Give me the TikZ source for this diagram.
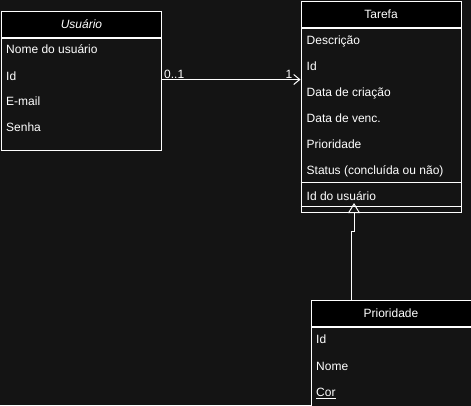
\documentclass[tikz,border=0pt]{standalone}
\usepackage{fontspec}
\setmainfont{Liberation Sans}
\usepackage{xcolor}
\usetikzlibrary{arrows.meta}
\definecolor{canvas}{RGB}{20,20,20}
\colorlet{ink}{white}
\tikzset{
  % node options
  classbox/.style={rectangle,draw=ink,line width=1pt,minimum width=160pt,inner sep=0pt,anchor=north west},
  classhead/.style={classbox,fill=black,minimum height=26pt,text=ink,font=\fontsize{12}{14}\selectfont},
  classbody/.style={classbox,fill=canvas,anchor=north},
  attr/.style={anchor=base west,inner sep=0pt,text=ink,font=\fontsize{12}{14}\selectfont},
  mult/.style={inner sep=0pt,text=ink,font=\fontsize{12}{14}\selectfont},
  % path options
  assoc/.style={draw=ink,line width=1pt,-{Straight Barb[length=6pt,width=10pt,line width=1pt]}},
  inherit/.style={draw=ink,line width=1pt,-{Triangle[open,length=10pt,width=12pt,line width=1pt]}},
  divider/.style={draw=ink,line width=1pt},
}

\begin{document}
\begin{tikzpicture}[x=1pt,y=-1pt]
  \fill[canvas] (0,0) rectangle (471,405);
  \useasboundingbox (0,0) rectangle (471,405);
  % Usuario
  \node[classhead] (usuarioHead) at (1,10.5) {\itshape Usuário};
  \node[classbody,minimum height=112pt] (usuarioBody) at (usuarioHead.south) {};
  \node[attr] (usuarioNome) at (6,53.3) {Nome do usuário};
  \node[attr] (usuarioId) at (6,80.3) {Id};
  \node[attr] (usuarioEmail) at (6,105.3) {E-mail};
  \node[attr] (usuarioSenha) at (6,131.3) {Senha};
  % Tarefa
  \node[classhead] (tarefaHead) at (300.5,1) {Tarefa};
  \node[classbody,minimum height=183.5pt] (tarefaBody) at (tarefaHead.south) {};
  \node[attr] (tarefaDescricao) at (306.5,44.3) {Descrição};
  \node[attr] (tarefaId) at (306.5,70.3) {Id};
  \node[attr] (tarefaCriacao) at (306.5,96.3) {Data de criação};
  \node[attr] (tarefaVenc) at (306.5,122.3) {Data de venc.};
  \node[attr] (tarefaPrioridade) at (306.5,148.3) {Prioridade};
  \node[attr] (tarefaStatus) at (306.5,174.3) {Status (concluída ou não)};
  \draw[divider] (tarefaBody.west |- 0,182.5) -- (tarefaBody.east |- 0,182.5);
  \node[attr] (tarefaUsuario) at (306.5,200.3) {Id do usuário};
  \draw[divider] (tarefaBody.west |- 0,206.5) -- (tarefaBody.east |- 0,206.5);
  % Prioridade
  \node[classhead] (prioridadeHead) at (310.5,300) {Prioridade};
  \node[classbody,minimum height=90pt] (prioridadeBody) at (prioridadeHead.south) {};
  \node[attr] (prioridadeId) at (316,343.3) {Id};
  \node[attr] (prioridadeNome) at (316,370.3) {Nome};
  \node[attr] (prioridadeCor) at (316,396.3) {\underline{Cor}};
  % connectors
  \coordinate (link) at (0,79.5);
  \draw[assoc] (usuarioBody.east |- link) -- (tarefaBody.west |- link);
  \node[mult,anchor=south west] (multUsuario) at ([xshift=2pt,yshift=1pt]usuarioBody.east |- link) {0..1};
  \node[mult,anchor=south east] (multTarefa) at ([xshift=-8pt,yshift=1pt]tarefaBody.west |- link) {1};
  \coordinate (jog) at (351,231);
  \coordinate (tip) at (354,203);
  \draw[inherit] (prioridadeHead.north -| jog) -- (jog) -| (tip);
\end{tikzpicture}
\end{document}
